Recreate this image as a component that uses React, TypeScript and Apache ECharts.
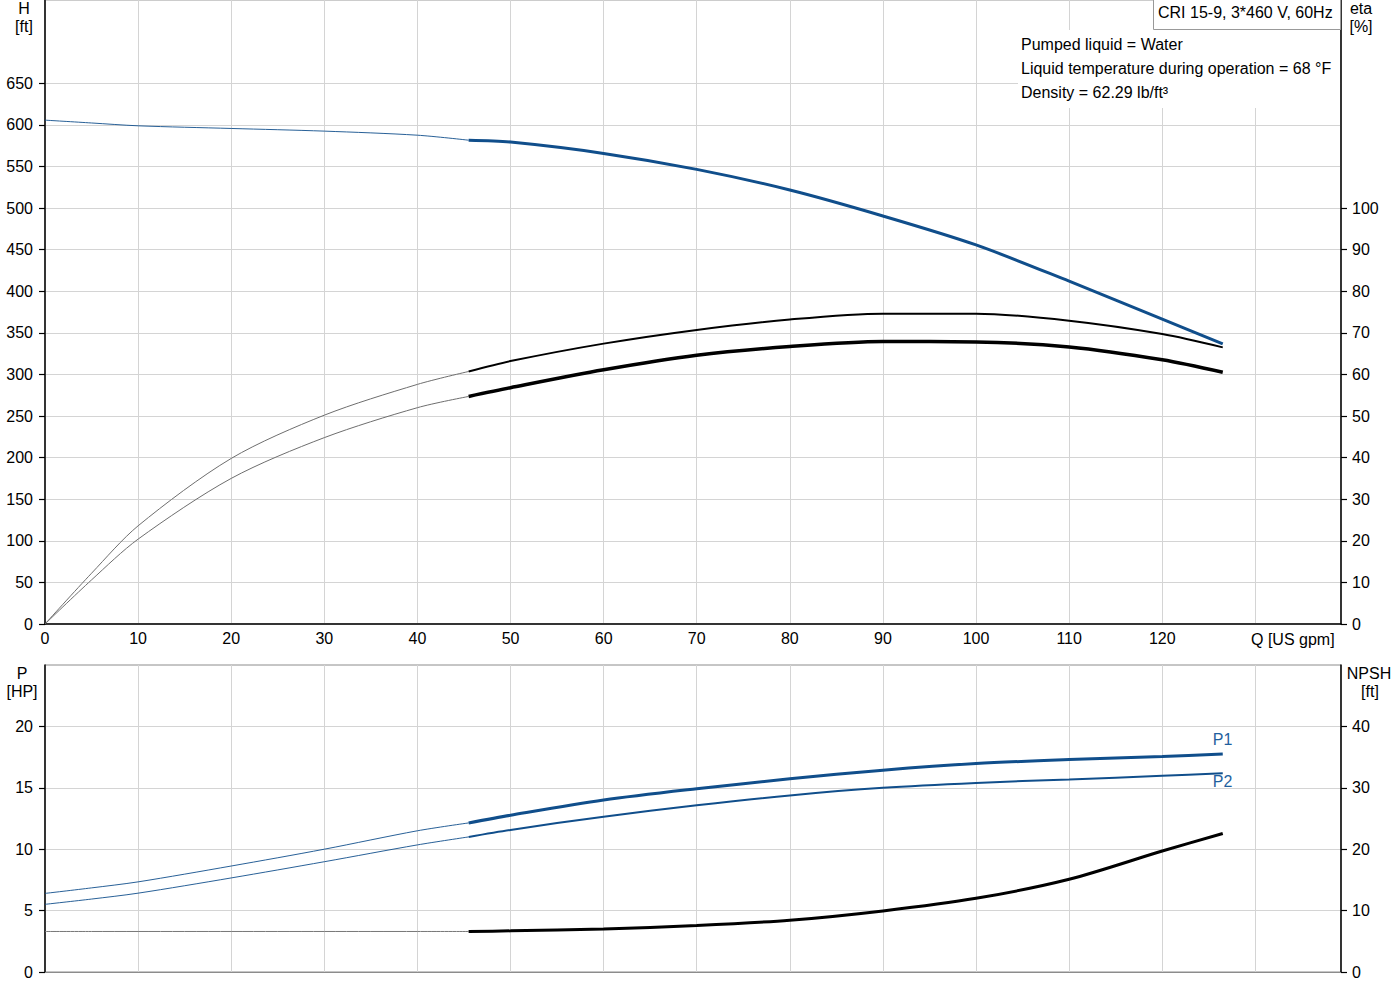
import React, { useEffect, useRef } from 'react';
import * as echarts from 'echarts';

// flow points (US gpm) shared by every curve
const qPoints = [0, 5, 10, 20, 30, 40, 45.5, 50, 60, 70, 80, 90, 100, 110, 120, 126.5];
const thickFrom = 45.5; // curves are drawn bold from here on

const headFt = [605.6, 602.2, 598.8, 595.6, 592.4, 587.5, 581.5, 579.2, 565.6, 546.4, 521.6, 490.4, 455.6, 412.0, 366.5, 336.6];
const etaPump = [0, 12.2, 23.6, 39.8, 50.2, 57.6, 60.7, 63.2, 67.4, 70.7, 73.2, 74.6, 74.6, 72.9, 69.7, 66.5];
const etaTotal = [0, 10.6, 20.4, 35.0, 44.8, 52.0, 54.7, 56.8, 61.1, 64.6, 66.7, 67.9, 67.8, 66.6, 63.5, 60.5];
const p1Hp = [6.4, 6.85, 7.34, 8.63, 10.0, 11.5, 12.14, 12.76, 14.0, 14.92, 15.73, 16.43, 16.97, 17.3, 17.55, 17.76];
const p2Hp = [5.51, 5.94, 6.42, 7.66, 8.98, 10.35, 11.0, 11.57, 12.65, 13.57, 14.38, 15.0, 15.4, 15.68, 15.98, 16.19];
const npshFt = [6.6, 6.6, 6.6, 6.6, 6.6, 6.6, 6.6, 6.7, 7.0, 7.57, 8.43, 9.95, 12.0, 15.1, 19.7, 22.55];

// tick labels
const headTicks = [0, 50, 100, 150, 200, 250, 300, 350, 400, 450, 500, 550, 600, 650];
const etaTicks = [0, 10, 20, 30, 40, 50, 60, 70, 80, 90, 100];
const powerTicks = [0, 5, 10, 15, 20];
const npshTicks = [0, 10, 20, 30, 40];

const title = 'CRI 15-9, 3*460 V, 60Hz';
const infoLines = ['Pumped liquid = Water', 'Liquid temperature during operation = 68 \u00b0F', 'Density = 62.29 lb/ft\u00b3'];

const BLUE = '#104e8b';
const FONT = 'Liberation Sans, Arial, sans-serif';

const split = qPoints.indexOf(thickFrom);
const thin = (vals: number[]) => qPoints.slice(0, split + 1).map((q, i) => [q, vals[i]]);
const bold = (vals: number[]) => qPoints.slice(split).map((q, i) => [q, vals[split + i]]);

const label = { color: '#000', fontSize: 16, fontFamily: FONT };

const curve = (name: string, data: number[][], color: string, width: number, xi: number, yi: number, extra = {}) => ({
  name,
  type: 'line',
  xAxisIndex: xi,
  yAxisIndex: yi,
  data,
  smooth: 0.3,
  showSymbol: false,
  symbol: 'none',
  silent: true,
  lineStyle: { color, width },
  z: 5,
  ...extra,
});

const valueAxis = (gi: number, pos: string, max: number, interval: number, ticks: number[], margin: number, grid: boolean) => ({
  type: 'value',
  gridIndex: gi,
  position: pos,
  min: 0,
  max,
  interval,
  axisLine: { show: true, onZero: false, lineStyle: { color: '#000', width: 1.5 } },
  axisTick: { show: true, inside: false, length: 6, customValues: ticks, lineStyle: { color: '#000', width: 1.2 } },
  axisLabel: { ...label, margin, customValues: ticks },
  splitLine: { show: grid, lineStyle: { color: '#d4d4d4', width: 1 } },
});

const text = (x: number, y: number, t: string, align = 'center') => ({
  type: 'text',
  x,
  y,
  z: 20,
  style: { text: t, fill: '#000', font: `16px ${FONT}`, textAlign: align, textVerticalAlign: 'middle' },
});

const PumpCurves: React.FC = () => {
  const chartRef = useRef<HTMLDivElement>(null);

  useEffect(() => {
    if (!chartRef.current) return;
    const chart = echarts.init(chartRef.current, undefined, { renderer: 'svg' });

    const options: any = {
      animation: false,
      backgroundColor: '#fff',
      grid: [
        { left: 45, right: 59, top: -1, height: 625, show: true, borderColor: '#999', borderWidth: 1 },
        { left: 45, right: 59, top: 665, height: 307, show: true, borderColor: '#8c8c8c', borderWidth: 1 },
      ],
      xAxis: [
        {
          type: 'value',
          gridIndex: 0,
          min: 0,
          max: 139.2,
          interval: 10,
          axisLine: { show: true, onZero: false, lineStyle: { color: '#000', width: 1.5 } },
          axisTick: { show: false },
          axisLabel: { ...label, margin: 6, showMaxLabel: false, formatter: (v: number) => (v > 120 ? '' : String(v)) },
          splitLine: { show: true, lineStyle: { color: '#d4d4d4', width: 1 } },
        },
        {
          type: 'value',
          gridIndex: 1,
          min: 0,
          max: 139.2,
          interval: 10,
          axisLine: { show: true, onZero: false, lineStyle: { color: '#8c8c8c', width: 1 } },
          axisTick: { show: false },
          axisLabel: { show: false },
          splitLine: { show: true, lineStyle: { color: '#d4d4d4', width: 1 } },
        },
      ],
      yAxis: [
        valueAxis(0, 'left', 750, 50, headTicks, 12, true),
        valueAxis(0, 'right', 150, 10, etaTicks, 11, false),
        valueAxis(1, 'left', 25, 5, powerTicks, 12, true),
        valueAxis(1, 'right', 50, 10, npshTicks, 11, false),
      ],
      series: [
        curve('H thin', thin(headFt), BLUE, 0.9, 0, 0),
        curve('H', bold(headFt), BLUE, 3, 0, 0),
        curve('eta thin', thin(etaPump), '#6e6e6e', 1, 0, 1),
        curve('eta', bold(etaPump), '#000', 2, 0, 1),
        curve('eta total thin', thin(etaTotal), '#6e6e6e', 1, 0, 1),
        curve('eta total', bold(etaTotal), '#000', 3.5, 0, 1),
        curve('P1 thin', thin(p1Hp), BLUE, 0.9, 1, 2),
        curve('P1', bold(p1Hp), BLUE, 3, 1, 2, {
          endLabel: { show: true, formatter: 'P1', color: '#1f5f9e', fontSize: 16, fontFamily: FONT, distance: 0, offset: [-10, -14] },
        }),
        curve('P2 thin', thin(p2Hp), BLUE, 0.9, 1, 2),
        curve('P2', bold(p2Hp), BLUE, 2, 1, 2, {
          endLabel: { show: true, formatter: 'P2', color: '#1f5f9e', fontSize: 16, fontFamily: FONT, distance: 0, offset: [-10, 8] },
        }),
        curve('NPSH thin', thin(npshFt), '#777', 1, 1, 3),
        curve('NPSH', bold(npshFt), '#000', 3, 1, 3),
      ],
      graphic: [
        { type: 'rect', z: 15, shape: { x: 1018, y: 30, width: 322, height: 78 }, style: { fill: '#fff' } },
        { type: 'rect', z: 15, shape: { x: 1153.5, y: -1, width: 187, height: 30.5 }, style: { fill: '#fff', stroke: '#999', lineWidth: 1 } },
        text(1158, 12, title, 'left'),
        ...infoLines.map((t, i) => text(1021, 44 + i * 24, t, 'left')),
        text(24, 8, 'H'),
        text(24, 26, '[ft]'),
        text(1361, 8, 'eta'),
        text(1361, 26, '[%]'),
        text(1251, 639, 'Q [US gpm]', 'left'),
        text(22, 673, 'P'),
        text(22, 691, '[HP]'),
        text(1369, 673, 'NPSH'),
        text(1370, 691, '[ft]'),
      ],
    };

    chart.setOption(options);

    return () => {
      chart.dispose();
    };
  }, []);

  return <div ref={chartRef} style={{ position: 'absolute', left: 0, top: 0, width: 1400, height: 1000 }} />;
};

export default function App() {
  return <PumpCurves />;
}
